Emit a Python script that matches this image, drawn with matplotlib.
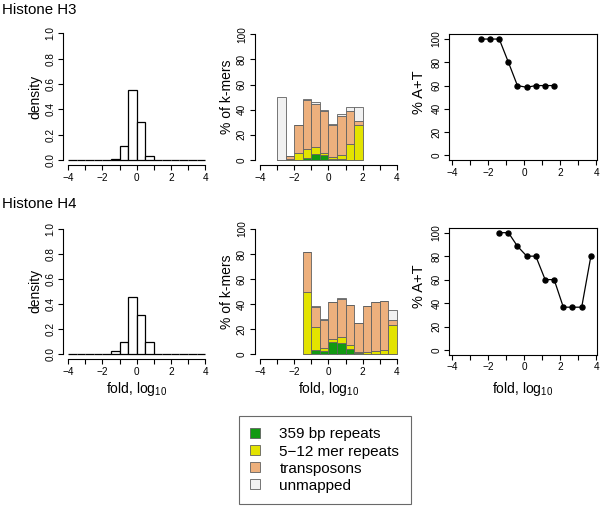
import matplotlib
matplotlib.use("Agg")
import matplotlib.pyplot as plt
from matplotlib.patches import Patch
import numpy as np

plt.rcParams['font.family'] = ['Liberation Sans', 'DejaVu Sans']
plt.rcParams['mathtext.fontset'] = 'custom'
plt.rcParams['mathtext.rm'] = 'Liberation Sans'
plt.rcParams['mathtext.it'] = 'Liberation Sans:italic'
plt.rcParams['mathtext.bf'] = 'Liberation Sans:bold'

# ---------------- data ----------------
hist_left = [-4.0, -3.5, -3.0, -2.5, -2.0, -1.5, -1.0, -0.5,
             0.0, 0.5, 1.0, 1.5, 2.0, 2.5, 3.0, 3.5]
h3_density = [0, 0, 0, 0, 0, 0.01, 0.11, 0.55, 0.30, 0.03, 0, 0, 0, 0, 0, 0]
h4_density = [0, 0, 0, 0, 0.005, 0.03, 0.10, 0.46, 0.31, 0.10, 0.005, 0, 0, 0, 0, 0]

h3_kmer_left = [-3.0, -2.5, -2.0, -1.5, -1.0, -0.5, 0.0, 0.5, 1.0, 1.5]
h3_green = [0, 0, 0, 1.9, 5.0, 4.2, 0.8, 0.5, 0, 0]
h3_yellow = [0, 1.0, 5.3, 6.9, 5.0, 1.6, 1.9, 3.5, 12.5, 28.0]
h3_transp = [0, 2.0, 22.2, 39.2, 34.6, 33.5, 25.3, 31.0, 26.8, 3.3]
h3_unmapped = [50.0, 0.5, 0.3, 0.5, 1.4, 0.5, 1.0, 1.3, 3.1, 10.7]

h4_kmer_left = [-1.5, -1.0, -0.5, 0.0, 0.5, 1.0, 1.5, 2.0, 2.5, 3.0, 3.5]
h4_green = [0, 3.5, 3.0, 10.0, 9.3, 4.3, 1.3, 0.5, 0.5, 0, 0]
h4_yellow = [50.0, 18.0, 2.3, 2.2, 4.7, 2.9, 0.2, 1.1, 1.9, 3.2, 23.4]
h4_transp = [31.3, 16.5, 22.4, 29.3, 30.0, 31.8, 23.5, 37.0, 39.4, 39.4, 3.6]
h4_unmapped = [0.3, 0.3, 0.3, 0.3, 0.8, 0.4, 0.2, 0.2, 0.2, 0.2, 8.0]

h3_at_x = [-2.4, -1.9, -1.38, -0.87, -0.37, 0.15, 0.65, 1.17, 1.67]
h3_at_y = [100, 100, 100, 80, 60, 58.5, 60, 60, 60]
h4_at_x = [-1.39, -0.87, -0.37, 0.15, 0.65, 1.17, 1.67, 2.18, 2.68, 3.2, 3.71]
h4_at_y = [100, 100, 88.5, 80, 80, 60, 60, 36.5, 36.5, 36.5, 80]

row_titles = ["Histone H3", "Histone H4"]
legend_labels = ["359 bp repeats", "5\u221212 mer repeats", "transposons", "unmapped"]
legend_colors = ["#129912", "#E3E300", "#EDB07D", "#F1F1F1"]
edge_col = "#606060"

W, H = 600, 508
fig = plt.figure(figsize=(W / 100, H / 100), dpi=100)


def px_axes(left, top, right, bottom):
    return fig.add_axes([left / W, 1 - bottom / H, (right - left) / W, (bottom - top) / H])


xticks = [-4, -3, -2, -1, 0, 1, 2, 3, 4]
xticklabels = ["\u22124", "", "\u22122", "", "0", "", "2", "", "4"]


def style_axes(ax, open_axes=True):
    if open_axes:
        ax.spines['top'].set_visible(False)
        ax.spines['right'].set_visible(False)
        ax.spines['bottom'].set_bounds(-4, 4)
    for s in ax.spines.values():
        s.set_linewidth(0.8)
    ax.set_xticks(xticks)
    ax.set_xticklabels(xticklabels)
    ax.tick_params(direction='out', length=3.5, width=0.8, labelsize=7.2, pad=2.0)
    ax.tick_params(axis='y', labelrotation=90)
    for lab in ax.get_yticklabels():
        lab.set_va('center')
    ax.set_facecolor('none')


row_off = [0, 194.3]
for r in range(2):
    dy = row_off[r]
    dens = [h3_density, h4_density][r]
    # ---- density histogram ----
    if r == 0:
        ax1 = px_axes(62.8, 28.3, 210.6, 165.1)
    else:
        ax1 = px_axes(62.8, 224.0, 210.6, 359.3)
    ax1.bar(hist_left, dens, width=0.5, align='edge', facecolor='white',
            edgecolor='black', linewidth=0.9)
    ax1.set_xlim(-4.32, 4.32)
    ax1.set_ylim(-0.04, 1.04)
    ax1.set_yticks([0, 0.2, 0.4, 0.6, 0.8, 1.0])
    ax1.set_yticklabels(["0.0", "0.2", "0.4", "0.6", "0.8", "1.0"])
    ax1.spines['left'].set_bounds(0, 1)
    style_axes(ax1)

    # ---- stacked k-mer bars ----
    if r == 0:
        ax2 = px_axes(254.5, 29.3, 402.3, 165.0)
        left = h3_kmer_left
        layers = [h3_green, h3_yellow, h3_transp, h3_unmapped]
    else:
        ax2 = px_axes(254.5, 223.9, 402.3, 359.3)
        left = h4_kmer_left
        layers = [h4_green, h4_yellow, h4_transp, h4_unmapped]
    bottom = np.zeros(len(left))
    for vals, col in zip(layers, legend_colors):
        vals = np.array(vals, dtype=float)
        ax2.bar(left, vals, width=0.5, bottom=bottom, align='edge',
                facecolor=col, edgecolor=edge_col, linewidth=0.6)
        bottom = bottom + vals
    ax2.set_xlim(-4.32, 4.32)
    ax2.set_ylim(-4, 104)
    ax2.set_yticks([0, 20, 40, 60, 80, 100])
    ax2.spines['left'].set_bounds(0, 100)
    style_axes(ax2)

    # ---- % A+T line ----
    if r == 0:
        ax3 = px_axes(449, 34.4, 597, 160.0)
        xs, ys = h3_at_x, h3_at_y
    else:
        ax3 = px_axes(449, 228.0, 597, 354.7)
        xs, ys = h4_at_x, h4_at_y
    ax3.plot(xs, ys, color='black', linewidth=0.9, marker='o', markersize=3.6)
    ax3.set_xlim(-4.17, 4.05)
    ax3.set_ylim(-4, 104)
    ax3.set_yticks([0, 20, 40, 60, 80, 100])
    style_axes(ax3, open_axes=False)

    # labels
    fig.text(2 / W, 1 - (3 + dy) / H, row_titles[r], ha='left', va='top', fontsize=10.8)
    fig.text(35 / W, 1 - (97 + dy) / H, "density", rotation=90, ha='center', va='center', fontsize=10)
    fig.text(227 / W, 1 - (97 + dy) / H, "% of k-mers", rotation=90, ha='center', va='center', fontsize=10)
    fig.text(419 / W, 1 - (92 + dy) / H, "% A+T", rotation=90, ha='center', va='center', fontsize=10.5)

for cx in [136.7, 328.4, 523.0]:
    fig.text(cx / W, 1 - 389 / H, "fold, log$_{10}$", ha='center', va='center', fontsize=10)

handles = [Patch(facecolor=c, edgecolor=edge_col, linewidth=0.6) for c in legend_colors]
leg = fig.legend(handles, legend_labels, loc='upper left',
                 bbox_to_anchor=(239 / W, 1 - 416 / H), bbox_transform=fig.transFigure,
                 fontsize=11, frameon=True, fancybox=False, borderpad=0.75,
                 labelspacing=0.2, handlelength=0.6, handleheight=0.6,
                 handletextpad=1.3, borderaxespad=0, edgecolor='#444444')
leg.get_frame().set_linewidth(0.8)

fig.savefig("out.png", dpi=100)
